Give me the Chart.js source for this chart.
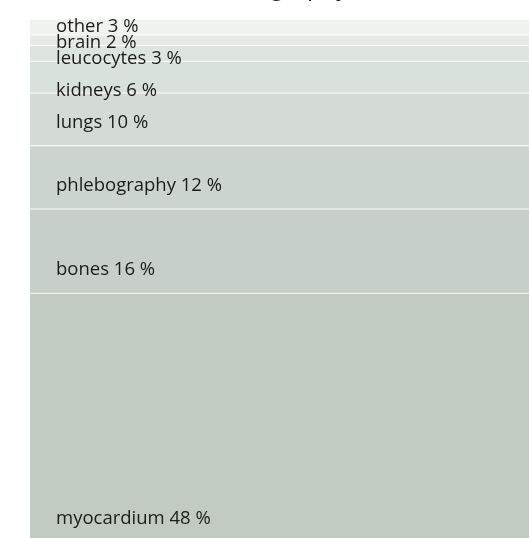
<!DOCTYPE html>
<html>
<head>
<meta charset="utf-8">
<script src="https://cdn.jsdelivr.net/npm/chart.js@4.4.0/dist/chart.umd.min.js"></script>
<style>
  html, body { margin: 0; padding: 0; background: #fff; overflow: hidden; }
  #wrap { width: 529px; height: 538px; overflow: hidden; position: relative; }
  #chart { position: absolute; left: 0; top: -26px; }
</style>
</head>
<body>
<div id="wrap"><canvas id="chart" width="529" height="572"></canvas></div>
<script>
// bottom to top
const organs = ["myocardium", "bones", "phlebography", "lungs", "kidneys", "leucocytes", "brain", "other"];
const shares = [48, 16, 12, 10, 6, 3, 2, 3];
const fills = ["#c1cbc2", "#c6d0c8", "#cbd5cd", "#d3dbd4", "#d9e1db", "#dee5e0", "#e5eae6", "#f0f2ef"];

const labelPlugin = {
  id: "segmentLabels",
  afterDatasetsDraw(chart) {
    const ctx = chart.ctx;
    const left = chart.chartArea.left + 26;
    // label heights bottom-up, small ones pushed apart
    let prev = Infinity;
    const ys = [];
    organs.forEach((name, i) => {
      const bar = chart.getDatasetMeta(i).data[0];
      const h = bar.base - bar.y;
      let y = bar.base - (h > 40 ? 23 : 2);
      if (i === 0) y -= 4; // bottom one sits a little higher
      y = Math.min(y, prev - 16);
      ys.push(y);
      prev = y;
    });
    ctx.save();
    ctx.font = "18.5px 'Open Sans'";
    ctx.fillStyle = "#1c1c1c";
    ctx.textBaseline = "middle";
    ctx.textAlign = "left";
    organs.forEach((name, i) => {
      ctx.fillText(name + " " + shares[i] + " %", left, ys[i]);
    });
    ctx.restore();
  }
};

new Chart(document.getElementById("chart"), {
  type: "bar",
  data: {
    labels: [""],
    datasets: organs.map((name, i) => ({
      label: name,
      data: [shares[i]],
      backgroundColor: fills[i],
      borderColor: "#ffffff",
      borderWidth: { top: 1, bottom: 0, left: 0, right: 0 },
      borderSkipped: false,
      categoryPercentage: 1,
      barPercentage: 1
    }))
  },
  options: {
    responsive: false,
    animation: false,
    layout: { padding: { left: 30, right: 0, top: 0, bottom: 0 } },
    plugins: {
      legend: { display: false },
      tooltip: { enabled: false },
      title: {
        display: true,
        text: "Scintigraphy",
        fullSize: false,
        color: "#222",
        font: { family: "Open Sans", size: 24, weight: "normal", lineHeight: 1.2 },
        padding: { top: 0, bottom: 16.2 }
      }
    },
    scales: {
      x: { stacked: true, display: false },
      y: { stacked: true, display: false, min: 0, max: 100 }
    }
  },
  plugins: [labelPlugin]
});
</script>
</body>
</html>
